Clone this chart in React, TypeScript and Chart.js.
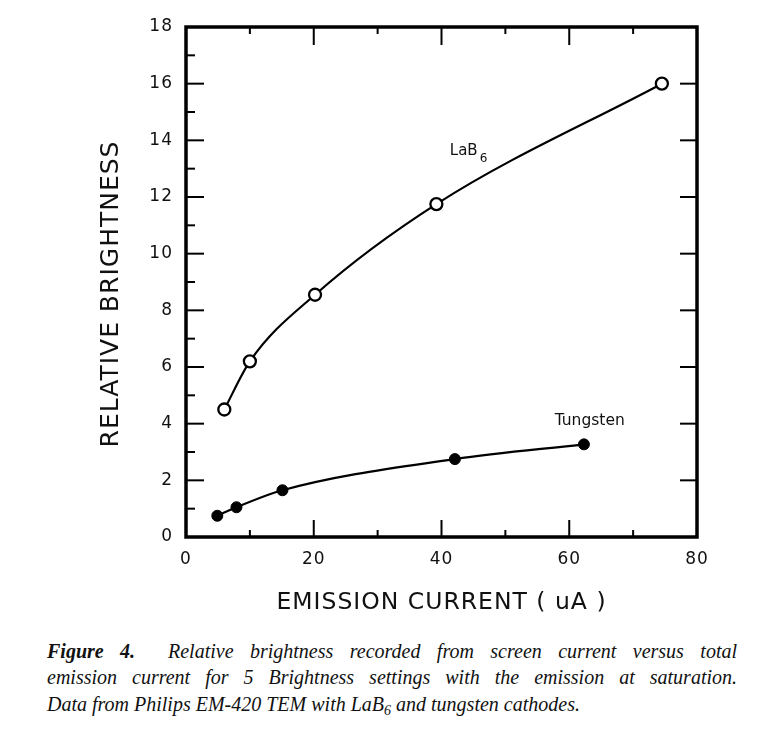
import { useEffect, useRef } from 'react';
import { Chart, registerables } from 'chart.js';

Chart.register(...registerables);

// ---- data ----
const lab6Current = [6.0, 10.0, 20.2, 39.2, 74.5];
const lab6Brightness = [4.5, 6.2, 8.55, 11.75, 16.0];
const tungstenCurrent = [4.9, 7.9, 15.1, 42.1, 62.3];
const tungstenBrightness = [0.75, 1.05, 1.65, 2.75, 3.27];

const xMajorTicks = [0, 20, 40, 60, 80];
const xMinorTicks = [10, 30, 50, 70];
const yMajorTicks = [0, 2, 4, 6, 8, 10, 12, 14, 16, 18];
const yMinorTicks = [1, 3, 5, 7, 9, 11, 13, 15, 17];

const xTitle = 'EMISSION CURRENT ( uA )';
const yTitle = 'RELATIVE BRIGHTNESS';
const lab6Label = 'LaB';
const lab6Sub = '6';
const tungstenLabel = 'Tungsten';

const CANVAS_W = 757;
const CANVAS_H = 630;

const framePlugin = {
  id: 'frameAndTicks',
  beforeDraw(chart: any) {
    // wider letter spacing, like the plotter lettering of the original
    chart.ctx.letterSpacing = '1px';
  },
  afterDraw(chart: any) {
    const ctx = chart.ctx;
    const xs = chart.scales.x;
    const ys = chart.scales.y;
    const { left, right, top, bottom } = chart.chartArea;
    ctx.save();
    ctx.strokeStyle = '#000';
    ctx.lineCap = 'butt';
    ctx.lineWidth = 2;
    const line = (x1: number, y1: number, x2: number, y2: number) => {
      ctx.beginPath();
      ctx.moveTo(x1, y1);
      ctx.lineTo(x2, y2);
      ctx.stroke();
    };
    yMajorTicks.forEach((v) => {
      const y = ys.getPixelForValue(v);
      line(left, y, left + 18, y);
      line(right, y, right - 17, y);
    });
    yMinorTicks.forEach((v) => {
      const y = ys.getPixelForValue(v);
      line(left, y, left + 9, y);
    });
    xMajorTicks.forEach((v) => {
      const x = xs.getPixelForValue(v);
      line(x, bottom, x, bottom - 17);
      line(x, top, x, top + 18);
    });
    xMinorTicks.forEach((v) => {
      const x = xs.getPixelForValue(v);
      line(x, bottom, x, bottom - 7);
      line(x, top, x, top + 7);
    });
    ctx.lineWidth = 3.5;
    ctx.strokeRect(left, top, right - left, bottom - top);

    // axis titles
    ctx.fillStyle = '#111';
    ctx.letterSpacing = '1px';
    ctx.textAlign = 'center';
    ctx.textBaseline = 'middle';
    ctx.font = '23.5px "DejaVu Sans"';
    ctx.fillText(xTitle, (left + right) / 2, 603);
    ctx.save();
    ctx.translate(111, (top + bottom) / 2 + 12);
    ctx.rotate(-Math.PI / 2);
    ctx.font = '25px "DejaVu Sans"';
    ctx.fillText(yTitle, 0, 0);
    ctx.restore();

    // series labels
    ctx.letterSpacing = '0px';
    ctx.textBaseline = 'alphabetic';
    ctx.font = '15px "DejaVu Sans"';
    const lx = xs.getPixelForValue(41.3);
    const ly = ys.getPixelForValue(13.5);
    ctx.textAlign = 'left';
    ctx.fillText(lab6Label, lx, ly);
    const w = ctx.measureText(lab6Label).width;
    ctx.font = '12px "DejaVu Sans"';
    ctx.fillText(lab6Sub, lx + w + 2, ly + 7);
    ctx.font = '15.5px "DejaVu Sans"';
    ctx.textAlign = 'center';
    ctx.fillText(tungstenLabel, xs.getPixelForValue(63.2), ys.getPixelForValue(3.97));
    ctx.restore();
    ctx.letterSpacing = '0px';
  },
};

function ChartView() {
  const ref = useRef<HTMLCanvasElement | null>(null);
  useEffect(() => {
    if (!ref.current) return;
    const chart = new Chart(ref.current, {
      type: 'line',
      data: {
        datasets: [
          {
            label: 'LaB6',
            data: lab6Current.map((x, i) => ({ x, y: lab6Brightness[i] })),
            borderColor: '#000',
            borderWidth: 2.2,
            pointRadius: 6,
            pointBorderWidth: 2.3,
            pointBackgroundColor: '#fff',
            pointBorderColor: '#000',
            cubicInterpolationMode: 'monotone',
            fill: false,
          },
          {
            label: 'Tungsten',
            data: tungstenCurrent.map((x, i) => ({ x, y: tungstenBrightness[i] })),
            borderColor: '#000',
            borderWidth: 2.2,
            pointRadius: 5.5,
            pointBorderWidth: 1,
            pointBackgroundColor: '#000',
            pointBorderColor: '#000',
            cubicInterpolationMode: 'monotone',
            fill: false,
          },
        ],
      },
      options: {
        responsive: false,
        animation: false,
        events: [],
        layout: { padding: { top: 27, right: 60, left: 0, bottom: 0 } },
        plugins: { legend: { display: false }, tooltip: { enabled: false } },
        scales: {
          x: {
            type: 'linear',
            min: 0,
            max: 80,
            grid: { display: false, drawTicks: false },
            border: { display: false },
            ticks: {
              stepSize: 20,
              padding: 12,
              color: '#111',
              font: { family: '"DejaVu Sans"', size: 17 },
              maxRotation: 0,
            },
            title: { display: false },
            afterFit(scale: any) {
              scale.height = CANVAS_H - 537;
            },
          },
          y: {
            type: 'linear',
            min: 0,
            max: 18,
            grid: { display: false, drawTicks: false },
            border: { display: false },
            ticks: {
              stepSize: 2,
              padding: 13,
              color: '#111',
              font: { family: '"DejaVu Sans"', size: 17 },
            },
            title: { display: false },
            afterFit(scale: any) {
              scale.width = 186;
            },
          },
        },
      },
      plugins: [framePlugin],
    } as any);
    return () => chart.destroy();
  }, []);
  return <canvas ref={ref} width={CANVAS_W} height={CANVAS_H} style={{ position: 'absolute', left: 0, top: 0 }} />;
}

const captionLine: any = {
  position: 'absolute',
  left: 47,
  width: 690,
  fontFamily: '"Liberation Serif", serif',
  fontStyle: 'italic',
  fontSize: 20,
  lineHeight: '26px',
  color: '#111',
  whiteSpace: 'nowrap',
};

export default function App() {
  return (
    <div style={{ position: 'absolute', left: 0, top: 0, width: 757, height: 741, background: '#fff', overflow: 'hidden' }}>
      <ChartView />
      <div style={{ ...captionLine, top: 638, textAlign: 'justify', textAlignLast: 'justify', whiteSpace: 'normal' }}>
        <b>Figure 4.</b>&nbsp;&nbsp;Relative brightness recorded from screen current versus total
      </div>
      <div style={{ ...captionLine, top: 664, textAlign: 'justify', textAlignLast: 'justify', whiteSpace: 'normal' }}>
        emission current for 5 Brightness settings with the emission at saturation.
      </div>
      <div style={{ ...captionLine, top: 691 }}>
        Data from Philips EM-420 TEM with LaB<sub style={{ fontSize: '0.7em', verticalAlign: '-0.3em', lineHeight: 0 }}>6</sub> and tungsten cathodes.
      </div>
    </div>
  );
}
